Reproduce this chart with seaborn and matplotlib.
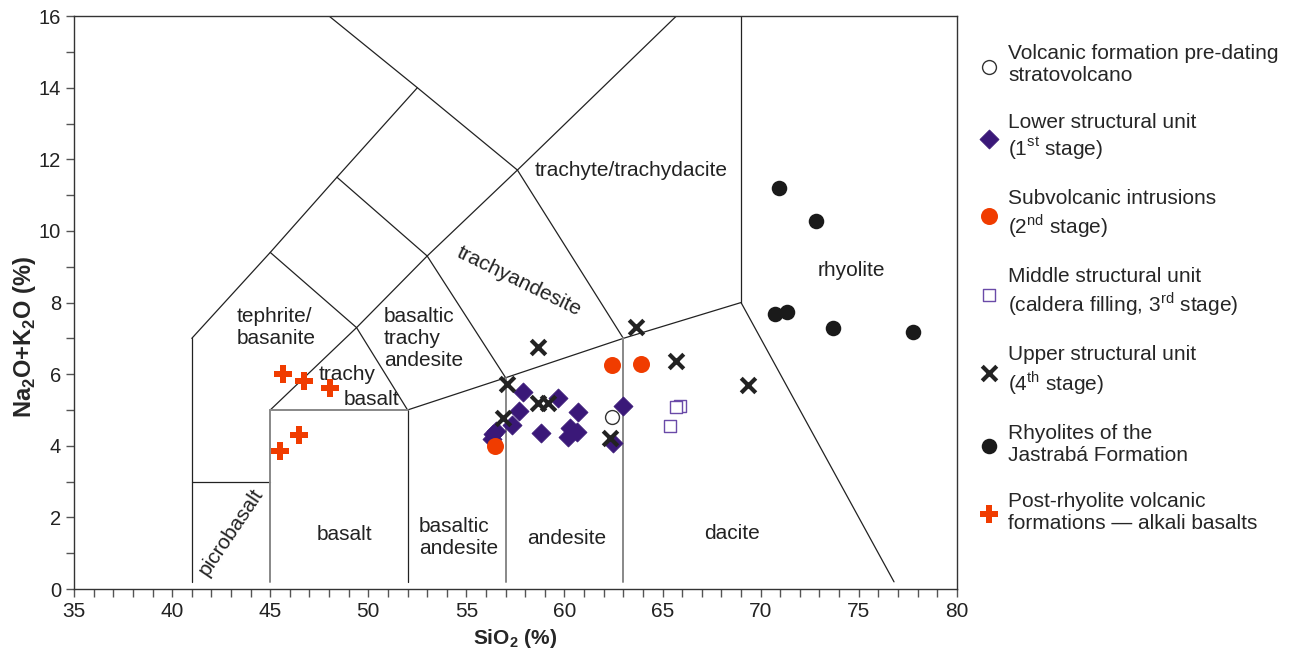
import matplotlib
matplotlib.use("Agg")
import matplotlib.pyplot as plt
import seaborn as sns
import pandas as pd

sns.set_style("ticks")
plt.rcParams["font.family"] = ["Liberation Sans", "DejaVu Sans"]
plt.rcParams["mathtext.fontset"] = "custom"
plt.rcParams["mathtext.rm"] = "Liberation Sans"
plt.rcParams["mathtext.bf"] = "Liberation Sans:bold"

# --- sample data (SiO2 %, Na2O+K2O %) ---
pre_sio2 = [62.4]
pre_alk = [4.79]

lower_sio2 = [57.9, 59.65, 57.68, 60.7, 63.0, 57.31, 56.37, 56.3, 56.5,
              58.8, 60.28, 60.62, 60.2, 62.45]
lower_alk = [5.49, 5.33, 4.97, 4.93, 5.11, 4.58, 4.32, 4.2, 4.4,
             4.35, 4.49, 4.39, 4.25, 4.09]

subvol_sio2 = [62.44, 63.9, 56.46]
subvol_alk = [6.26, 6.28, 3.99]

middle_sio2 = [65.89, 65.68, 65.38]
middle_alk = [5.11, 5.07, 4.55]

upper_sio2 = [57.05, 56.88, 58.67, 59.17, 62.3, 63.65, 58.66, 65.68, 69.35]
upper_alk = [5.73, 4.77, 5.19, 5.19, 4.21, 7.33, 6.77, 6.37, 5.70]

rhyo_sio2 = [70.93, 72.82, 70.73, 71.32, 73.67, 77.75]
rhyo_alk = [11.21, 10.27, 7.67, 7.74, 7.28, 7.19]

post_sio2 = [45.67, 46.74, 48.05, 46.48, 45.5]
post_alk = [6.0, 5.81, 5.6, 4.3, 3.85]

group_labels = [
    "Volcanic formation pre-dating\nstratovolcano",
    "Lower structural unit\n(1$^{\\mathrm{st}}$ stage)",
    "Subvolcanic intrusions\n(2$^{\\mathrm{nd}}$ stage)",
    "Middle structural unit\n(caldera filling, 3$^{\\mathrm{rd}}$ stage)",
    "Upper structural unit\n(4$^{\\mathrm{th}}$ stage)",
    "Rhyolites of the\nJastrabá Formation",
    "Post-rhyolite volcanic\nformations — alkali basalts",
]

# TAS field boundaries (Le Bas et al.)
tas_lines = [
    ([41, 41], [0.2, 7]),
    ([41, 45, 48.4, 52.5, 48.0], [7, 9.4, 11.5, 14, 16]),
    ([41, 45], [3, 3]),
    ([52, 52], [0.2, 5]),
    ([45, 49.4, 53, 57.6, 65.7], [5, 7.3, 9.3, 11.7, 16]),
    ([45, 49.4, 52], [9.4, 7.3, 5]),
    ([48.4, 53, 57], [11.5, 9.3, 5.9]),
    ([52, 57, 63, 69, 76.8], [5, 5.9, 7, 8, 0.2]),
    ([52.5, 57.6, 63], [14, 11.7, 7]),
    ([69, 69], [8, 16]),
]
tas_grey_lines = [
    ([45, 45], [0.2, 5]),
    ([45, 52], [5, 5]),
    ([57, 57], [0.2, 5.9]),
    ([63, 63], [0.2, 7]),
]

field_names = [
    ("tephrite/\nbasanite", 45.3, 7.3, 0),
    ("basaltic\ntrachy\nandesite", 52.8, 7.0, 0),
    ("trachy", 48.9, 5.98, 0),
    ("basalt", 50.14, 5.28, 0),
    ("trachyandesite", 57.7, 8.58, -26),
    ("trachyte/trachydacite", 63.4, 11.68, 0),
    ("rhyolite", 74.6, 8.9, 0),
    ("picrobasalt", 43.0, 1.6, 56),
    ("basalt", 48.8, 1.51, 0),
    ("basaltic\nandesite", 54.6, 1.45, 0),
    ("andesite", 60.13, 1.4, 0),
    ("dacite", 68.54, 1.54, 0),
]

fig = plt.figure(figsize=(13, 6.57), dpi=100)
ax = fig.add_axes([0.057, 0.1035, 0.679, 0.872])

for xs, ys in tas_lines:
    ax.plot(xs, ys, color="#222222", lw=0.9, zorder=1)
for xs, ys in tas_grey_lines:
    ax.plot(xs, ys, color="#888888", lw=1.4, zorder=1)

for txt, x, y, rot in field_names:
    ax.text(x, y, txt, ha="center", va="center", rotation=rot,
            fontsize=15, color="#222222", multialignment="left",
            rotation_mode="anchor", zorder=2)

groups = [
    (pre_sio2, pre_alk, dict(marker="o", s=100, facecolor="white", edgecolor="#333333", linewidth=1.0)),
    (lower_sio2, lower_alk, dict(marker="D", s=95, color="#3a1878", edgecolor="#3a1878", linewidth=0.5)),
    (subvol_sio2, subvol_alk, dict(marker="o", s=150, color="#f03c00", edgecolor="#f03c00", linewidth=0)),
    (middle_sio2, middle_alk, dict(marker="s", s=75, facecolor="white", edgecolor="#6a4aa8", linewidth=1.0)),
    (upper_sio2, upper_alk, dict(marker="x", s=110, color="#222222", linewidth=3)),
    (rhyo_sio2, rhyo_alk, dict(marker="o", s=125, color="#1a1a1a", edgecolor="#1a1a1a", linewidth=0)),
    (post_sio2, post_alk, dict(marker="P", s=150, color="#f03c00", edgecolor="#f03c00", linewidth=0)),
]
for (xs, ys, kw), label in zip(groups, group_labels):
    df = pd.DataFrame({"sio2": xs, "alk": ys})
    sns.scatterplot(data=df, x="sio2", y="alk", ax=ax, label=label, zorder=3, **kw)

ax.set_xlim(35, 80)
ax.set_ylim(0, 16)
ax.set_xticks(range(35, 81, 5))
ax.set_xticks(range(35, 81, 1), minor=True)
ax.set_yticks(range(0, 17, 2))
ax.set_yticks(range(0, 17, 1), minor=True)
ax.tick_params(which="both", direction="out", length=6, width=1, color="#555555",
               labelcolor="#222222")
ax.tick_params(axis="x", labelsize=15)
ax.tick_params(axis="y", labelsize=14.5)
for sp in ax.spines.values():
    sp.set_color("#333333")
    sp.set_linewidth(1.0)

ax.set_xlabel("SiO$_\\mathbf{2}$ (%)", fontsize=15, fontweight="bold", labelpad=4)
ax.set_ylabel("Na$_\\mathbf{2}$O+K$_\\mathbf{2}$O (%)", fontsize=17, fontweight="bold")
ax.yaxis.set_label_coords(-0.041, 0.44)

handles, labels = ax.get_legend_handles_labels()
ax.get_legend().remove()
fig.legend(handles, labels, loc="upper left", bbox_to_anchor=(0.745, 0.945),
           frameon=False, fontsize=15, labelspacing=1.3, handletextpad=0.3,
           handlelength=1.2, borderaxespad=0)

fig.savefig("out.png", dpi=100)
